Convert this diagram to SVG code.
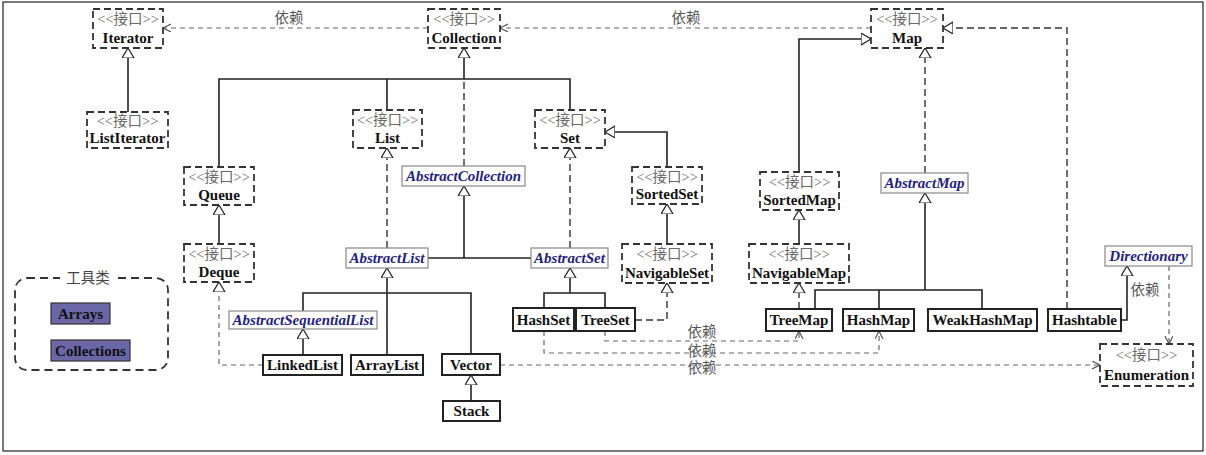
<svg xmlns="http://www.w3.org/2000/svg" width="1206" height="455" viewBox="0 0 1206 455">
<style>
.frame{fill:#fff;stroke:#222;stroke-width:1.2}
.ibox{fill:#fff;stroke:#333;stroke-width:1.8;stroke-dasharray:7 4}
.abox{fill:#fff;stroke:#888;stroke-width:1.2}
.cbox{fill:#fff;stroke:#222;stroke-width:2}
.tbox{fill:#6b66a6;stroke:#333;stroke-width:1.2}
.st{font-family:"Liberation Serif","Noto Sans CJK SC",serif;font-size:14.5px;fill:#6a6a6a;text-anchor:middle}
.nm{font-family:"Liberation Serif",serif;font-weight:bold;font-size:15px;fill:#111;text-anchor:middle}
.ab{font-family:"Liberation Serif",serif;font-weight:bold;font-style:italic;font-size:15px;fill:#23237f;text-anchor:middle}
.lb{font-family:"Liberation Serif","Noto Sans CJK SC",serif;font-size:14.5px;fill:#555;text-anchor:middle}
.ln{fill:none;stroke:#222;stroke-width:1.6}
.dl{fill:none;stroke:#333;stroke-width:1.4;stroke-dasharray:7 4}
.dep{fill:none;stroke:#666;stroke-width:1.2;stroke-dasharray:5 4}
.tri{marker-end:url(#tri)}
.arr{marker-end:url(#arr)}
</style>
<defs>
<marker id="tri" markerUnits="userSpaceOnUse" markerWidth="14" markerHeight="14" refX="10" refY="6" orient="auto">
<path d="M0,0 L10,6 L0,12 z" fill="#fff" stroke="#222" stroke-width="1.2"/>
</marker>
<marker id="arr" markerUnits="userSpaceOnUse" markerWidth="12" markerHeight="12" refX="8" refY="4" orient="auto">
<path d="M0,0 L8,4 L0,8" fill="none" stroke="#555" stroke-width="1.2"/>
</marker>
</defs>
<rect class="frame" x="3" y="2" width="1200" height="449"/>

<g id="connectors">
<path class="dep arr" d="M428,28 H163"/>
<text class="lb" x="289" y="23">依赖</text>
<path class="dep arr" d="M871,28 H500"/>
<text class="lb" x="686" y="23">依赖</text>
<path class="ln tri" d="M128,112 V48"/>
<path class="ln" d="M219,167 V79 H570 V110 M387,79 V110"/>
<path class="ln tri" d="M464,79 V48"/>
<path class="dl" d="M464,166 V82"/>
<path class="ln tri" d="M219,244 V205"/>
<path class="dep tri" d="M263,365 H219 V282"/>
<path class="dl tri" d="M387,248 V148"/>
<path class="ln" d="M428,258 H531"/>
<path class="ln tri" d="M464,258 V186"/>
<path class="dl tri" d="M570,248 V148"/>
<path class="ln tri" d="M667,167 V132 H605"/>
<path class="ln tri" d="M667,244 V204"/>
<path class="dl tri" d="M635,320 H667 V283"/>
<path class="ln" d="M544,308 V293 H605 V308"/>
<path class="ln tri" d="M570,293 V268"/>
<path class="ln" d="M303,311 V293 H471 V354"/>
<path class="ln tri" d="M387,355 V268"/>
<path class="ln tri" d="M303,355 V329"/>
<path class="ln tri" d="M471,401 V375"/>
<path class="ln tri" d="M799,172 V39 H871"/>
<path class="ln tri" d="M799,244 V210"/>
<path class="dl tri" d="M799,309 V283"/>
<path class="dl tri" d="M925,173 V48"/>
<path class="ln" d="M815,309 V290 H982 V309 M879,290 V309"/>
<path class="ln tri" d="M925,290 V193"/>
<path class="dl tri" d="M1067,309 V28 H943"/>
<path class="ln tri" d="M1121,320 H1127 V266"/>
<text class="lb" x="1145" y="295">依赖</text>
<path class="dep arr" d="M1169,266 V344"/>
<path class="dep arr" d="M605,331 V341 H799 V331"/>
<path class="dep arr" d="M544,331 V353 H879 V331"/>
<path class="dep arr" d="M500,365 H1100"/>
<text class="lb" x="702" y="337">依赖</text>
<text class="lb" x="702" y="356">依赖</text>
<text class="lb" x="702" y="373">依赖</text>
</g>

<g id="Iterator"><rect class="ibox" x="93" y="9" width="70" height="39"/><text class="st" x="128" y="24">&lt;&lt;接口&gt;&gt;</text><text class="nm" x="128" y="43">Iterator</text></g>
<g id="ListIterator"><rect class="ibox" x="87" y="112" width="81" height="36"/><text class="st" x="127.5" y="126">&lt;&lt;接口&gt;&gt;</text><text class="nm" x="127.5" y="143">ListIterator</text></g>
<g id="Collection"><rect class="ibox" x="428" y="9" width="72" height="39"/><text class="st" x="464" y="24">&lt;&lt;接口&gt;&gt;</text><text class="nm" x="464" y="43">Collection</text></g>
<g id="Map"><rect class="ibox" x="871" y="9" width="72" height="39"/><text class="st" x="907" y="24">&lt;&lt;接口&gt;&gt;</text><text class="nm" x="907" y="43">Map</text></g>
<g id="List"><rect class="ibox" x="353" y="110" width="69" height="38"/><text class="st" x="387.5" y="125">&lt;&lt;接口&gt;&gt;</text><text class="nm" x="387.5" y="143">List</text></g>
<g id="Set"><rect class="ibox" x="535" y="110" width="70" height="38"/><text class="st" x="570" y="125">&lt;&lt;接口&gt;&gt;</text><text class="nm" x="570" y="143">Set</text></g>
<g id="Queue"><rect class="ibox" x="184" y="167" width="70" height="38"/><text class="st" x="219" y="182">&lt;&lt;接口&gt;&gt;</text><text class="nm" x="219" y="200">Queue</text></g>
<g id="Deque"><rect class="ibox" x="184" y="244" width="70" height="38"/><text class="st" x="219" y="259">&lt;&lt;接口&gt;&gt;</text><text class="nm" x="219" y="277">Deque</text></g>
<g id="SortedSet"><rect class="ibox" x="632" y="167" width="70" height="37"/><text class="st" x="667" y="182">&lt;&lt;接口&gt;&gt;</text><text class="nm" x="667" y="199">SortedSet</text></g>
<g id="NavigableSet"><rect class="ibox" x="622" y="244" width="90" height="39"/><text class="st" x="667" y="259">&lt;&lt;接口&gt;&gt;</text><text class="nm" x="667" y="278">NavigableSet</text></g>
<g id="SortedMap"><rect class="ibox" x="760" y="172" width="79" height="38"/><text class="st" x="799.5" y="187">&lt;&lt;接口&gt;&gt;</text><text class="nm" x="799.5" y="205">SortedMap</text></g>
<g id="NavigableMap"><rect class="ibox" x="749" y="244" width="100" height="39"/><text class="st" x="799" y="259">&lt;&lt;接口&gt;&gt;</text><text class="nm" x="799" y="278">NavigableMap</text></g>
<g id="Enumeration"><rect class="ibox" x="1100" y="344" width="93" height="42"/><text class="st" x="1146.5" y="360">&lt;&lt;接口&gt;&gt;</text><text class="nm" x="1146.5" y="380">Enumeration</text></g>

<g id="AbstractCollection"><rect class="abox" x="402" y="166" width="123" height="20"/><text class="ab" x="463.5" y="181">AbstractCollection</text></g>
<g id="AbstractList"><rect class="abox" x="346" y="248" width="82" height="20"/><text class="ab" x="387" y="263">AbstractList</text></g>
<g id="AbstractSet"><rect class="abox" x="531" y="248" width="77" height="20"/><text class="ab" x="569.5" y="263">AbstractSet</text></g>
<g id="AbstractSequentialList"><rect class="abox" x="229" y="311" width="148" height="18"/><text class="ab" x="303" y="325">AbstractSequentialList</text></g>
<g id="AbstractMap"><rect class="abox" x="881" y="173" width="87" height="20"/><text class="ab" x="924.5" y="188">AbstractMap</text></g>
<g id="Directionary"><rect class="abox" x="1105" y="246" width="87" height="20"/><text class="ab" x="1148.5" y="261">Directionary</text></g>

<g id="HashSet"><rect class="cbox" x="513" y="308" width="61" height="23"/><text class="nm" x="543.5" y="325">HashSet</text></g>
<g id="TreeSet"><rect class="cbox" x="576" y="308" width="59" height="23"/><text class="nm" x="605.5" y="325">TreeSet</text></g>
<g id="LinkedList"><rect class="cbox" x="263" y="355" width="79" height="20"/><text class="nm" x="302.5" y="370">LinkedList</text></g>
<g id="ArrayList"><rect class="cbox" x="351" y="355" width="72" height="20"/><text class="nm" x="387" y="370">ArrayList</text></g>
<g id="Vector"><rect class="cbox" x="442" y="354" width="58" height="21"/><text class="nm" x="471" y="370">Vector</text></g>
<g id="Stack"><rect class="cbox" x="443" y="401" width="57" height="20"/><text class="nm" x="471.5" y="416">Stack</text></g>
<g id="TreeMap"><rect class="cbox" x="766" y="309" width="66" height="22"/><text class="nm" x="799" y="325">TreeMap</text></g>
<g id="HashMap"><rect class="cbox" x="843" y="309" width="71" height="22"/><text class="nm" x="878.5" y="325">HashMap</text></g>
<g id="WeakHashMap"><rect class="cbox" x="928" y="309" width="109" height="22"/><text class="nm" x="982.5" y="325">WeakHashMap</text></g>
<g id="Hashtable"><rect class="cbox" x="1048" y="309" width="73" height="22"/><text class="nm" x="1084.5" y="325">Hashtable</text></g>

<g id="tools">
<rect x="15" y="278" width="153" height="92" rx="12" fill="none" stroke="#333" stroke-width="1.8" stroke-dasharray="8 5"/>
<rect x="60" y="270" width="58" height="16" fill="#fff"/>
<text class="lb" x="88" y="283" style="fill:#444">工具类</text>
</g>
<g id="Arrays"><rect class="tbox" x="51" y="303" width="59" height="21"/><text class="nm" x="80.5" y="319">Arrays</text></g>
<g id="Collections"><rect class="tbox" x="51" y="340" width="79" height="21"/><text class="nm" x="90.5" y="356">Collections</text></g>
</svg>
